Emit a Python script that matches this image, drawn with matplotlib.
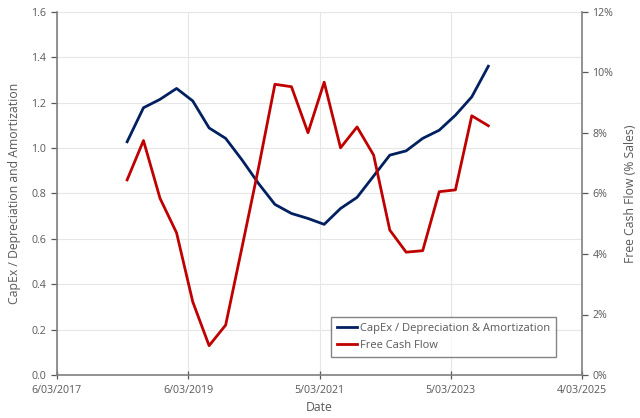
import numpy as np
import pandas as pd
import matplotlib
matplotlib.use("Agg")
import matplotlib.pyplot as plt
import matplotlib.dates as mdates
from matplotlib.ticker import FuncFormatter

# Квартальные данные
dates = pd.date_range("2018-03-31", periods=23, freq="QE")
capex_da = [1.028, 1.178, 1.215, 1.263, 1.208, 1.089, 1.043, 0.947, 0.844,
            0.752, 0.712, 0.690, 0.664, 0.734, 0.783, 0.877, 0.969, 0.988,
            1.043, 1.079, 1.145, 1.226, 1.361]
fcf = [6.45, 7.75, 5.84, 4.70, 2.42, 0.97, 1.65, 4.25, 6.85, 9.61, 9.53,
       8.01, 9.68, 7.51, 8.20, 7.27, 4.79, 4.06, 4.11, 6.06, 6.12, 8.57, 8.24]

x_ticks = pd.to_datetime(["2017-03-06", "2019-03-06", "2021-03-05",
                          "2023-03-05", "2025-03-04"])

txt = "#595959"
plt.rcParams["font.family"] = ["Open Sans", "DejaVu Sans"]
plt.rcParams["font.size"] = 7.7

fig = plt.figure(figsize=(6.4, 4.18), dpi=100)
ax = fig.add_axes([57 / 640, 1 - 375 / 418, 525 / 640, 363 / 418])
ax2 = ax.twinx()

l1, = ax.plot(dates, capex_da, color="#002060", lw=2.0,
              label="CapEx / Depreciation & Amortization")
l2, = ax2.plot(dates, fcf, color="#C00000", lw=2.0, label="Free Cash Flow")

ax.set_xlim(x_ticks[0], x_ticks[-1])
ax.set_xticks(x_ticks)
ax.xaxis.set_major_formatter(FuncFormatter(
    lambda v, p: "{d}/{m:02d}/{y}".format(d=mdates.num2date(v).day,
                                          m=mdates.num2date(v).month,
                                          y=mdates.num2date(v).year)))
ax.set_ylim(0, 1.6)
ax.set_yticks(np.arange(0, 1.61, 0.2))
ax.yaxis.set_major_formatter(FuncFormatter(lambda v, p: f"{v:.1f}"))
ax2.set_ylim(0, 12)
ax2.set_yticks(np.arange(0, 12.1, 2))
ax2.yaxis.set_major_formatter(FuncFormatter(lambda v, p: f"{v:.0f}%"))

ax.grid(True, color="#e6e6e6", lw=0.8)
ax.set_axisbelow(True)

for a in (ax, ax2):
    for s in a.spines.values():
        s.set_visible(False)
    a.tick_params(colors=txt, labelcolor=txt, length=4, width=0.9)
ax.spines["left"].set_visible(True)
ax.spines["bottom"].set_visible(True)
ax2.spines["right"].set_visible(True)
for s in (ax.spines["left"], ax.spines["bottom"], ax2.spines["right"]):
    s.set_color("#7f7f7f")
    s.set_linewidth(1.2)
ax.tick_params(axis="x", direction="inout", length=6, pad=4)
ax.tick_params(axis="y", pad=4)

ax.set_xlabel("Date", color=txt, fontsize=8.8, labelpad=4)
ax.set_ylabel("CapEx / Depreciation and Amortization", color=txt, fontsize=8.8,
              labelpad=7)
ax2.set_ylabel("Free Cash Flow (% Sales)", color=txt, fontsize=8.8, labelpad=8)

leg = ax.legend(handles=[l1, l2], loc="lower right",
                bbox_to_anchor=(0.962, 0.033), frameon=True, fancybox=False,
                edgecolor="#666666", fontsize=8, handlelength=1.8,
                handletextpad=0.2, borderpad=0.6, labelspacing=0.5)
leg.get_frame().set_linewidth(1.0)
for t in leg.get_texts():
    t.set_color(txt)

fig.savefig("out.png", dpi=100)
